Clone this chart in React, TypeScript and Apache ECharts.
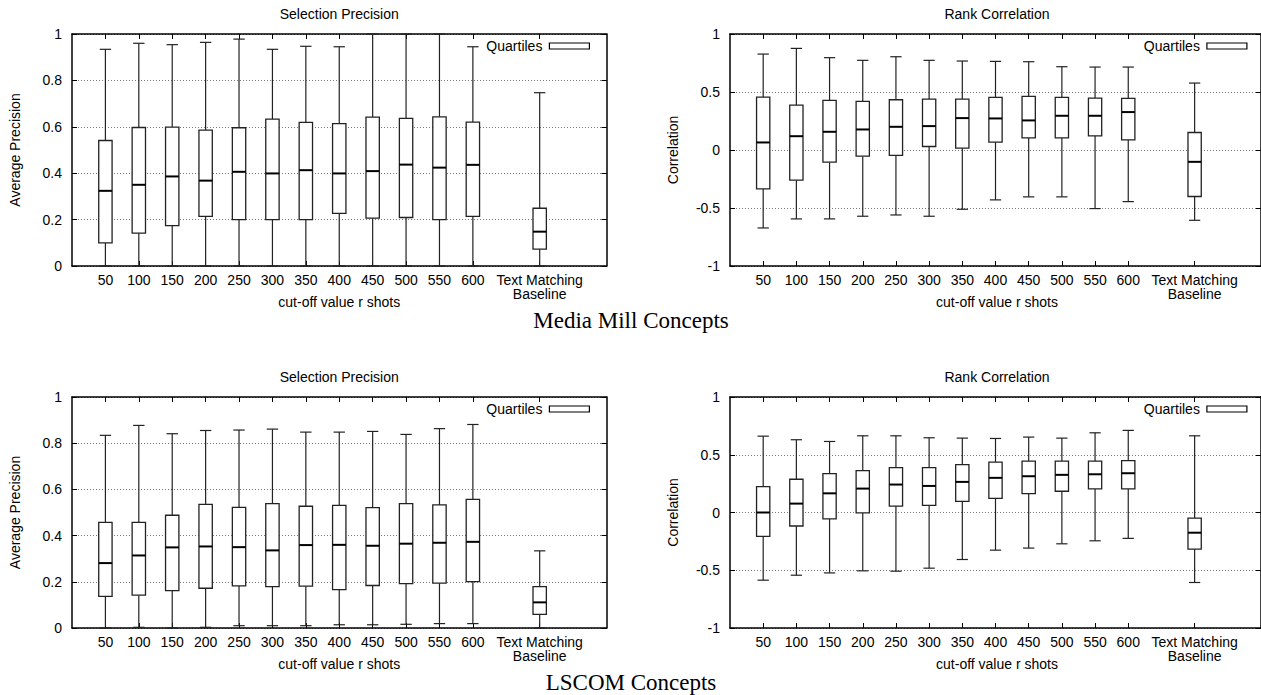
import React, { useEffect, useRef } from 'react';
import * as echarts from 'echarts';

// Category slots on the x axis (17 slots, 0..16); labelled slots only
const xSlots = [1, 2, 3, 4, 5, 6, 7, 8, 9, 10, 11, 12, 14];
const xLabels = ['50', '100', '150', '200', '250', '300', '350', '400', '450', '500', '550', '600', 'Text Matching\nBaseline'];
const slotCount = 17;

// [min, q1, median, q3, max] per category
const mediaMillPrecision = [
  [0, 0.10, 0.324, 0.541, 0.934],
  [0, 0.142, 0.350, 0.597, 0.960],
  [0, 0.174, 0.386, 0.599, 0.954],
  [0, 0.214, 0.368, 0.586, 0.964],
  [0, 0.200, 0.406, 0.596, 0.978],
  [0, 0.200, 0.399, 0.633, 0.934],
  [0, 0.200, 0.413, 0.619, 0.947],
  [0, 0.227, 0.399, 0.614, 0.945],
  [0, 0.206, 0.409, 0.642, 1.0],
  [0, 0.209, 0.437, 0.636, 1.0],
  [0, 0.200, 0.424, 0.643, 1.0],
  [0, 0.214, 0.436, 0.620, 0.945],
  [0, 0.073, 0.148, 0.249, 0.747],
];

const mediaMillCorrelation = [
  [-0.672, -0.335, 0.065, 0.456, 0.827],
  [-0.594, -0.260, 0.119, 0.387, 0.876],
  [-0.594, -0.105, 0.157, 0.427, 0.796],
  [-0.571, -0.053, 0.177, 0.419, 0.773],
  [-0.560, -0.047, 0.200, 0.433, 0.804],
  [-0.571, 0.030, 0.206, 0.439, 0.773],
  [-0.511, 0.016, 0.275, 0.439, 0.767],
  [-0.430, 0.068, 0.272, 0.453, 0.764],
  [-0.404, 0.105, 0.255, 0.462, 0.761],
  [-0.404, 0.105, 0.295, 0.453, 0.718],
  [-0.505, 0.122, 0.295, 0.447, 0.715],
  [-0.445, 0.088, 0.327, 0.445, 0.715],
  [-0.606, -0.401, -0.102, 0.151, 0.577],
];

const lscomPrecision = [
  [0, 0.137, 0.281, 0.457, 0.834],
  [0.003, 0.142, 0.314, 0.457, 0.877],
  [0, 0.162, 0.349, 0.488, 0.841],
  [0.003, 0.172, 0.353, 0.535, 0.855],
  [0.010, 0.182, 0.350, 0.522, 0.857],
  [0.010, 0.179, 0.336, 0.538, 0.861],
  [0.010, 0.181, 0.359, 0.527, 0.848],
  [0.014, 0.166, 0.360, 0.531, 0.848],
  [0.014, 0.184, 0.356, 0.521, 0.851],
  [0.016, 0.192, 0.365, 0.538, 0.838],
  [0.019, 0.194, 0.369, 0.533, 0.863],
  [0.019, 0.201, 0.373, 0.557, 0.881],
  [0, 0.059, 0.111, 0.179, 0.334],
];

const lscomCorrelation = [
  [-0.586, -0.207, 0.0, 0.224, 0.661],
  [-0.543, -0.117, 0.077, 0.288, 0.630],
  [-0.523, -0.056, 0.166, 0.337, 0.615],
  [-0.505, -0.004, 0.207, 0.363, 0.664],
  [-0.508, 0.056, 0.242, 0.389, 0.664],
  [-0.482, 0.062, 0.230, 0.389, 0.647],
  [-0.407, 0.097, 0.265, 0.415, 0.644],
  [-0.326, 0.123, 0.300, 0.436, 0.641],
  [-0.308, 0.163, 0.314, 0.444, 0.653],
  [-0.271, 0.184, 0.326, 0.444, 0.644],
  [-0.245, 0.204, 0.331, 0.444, 0.690],
  [-0.224, 0.204, 0.340, 0.450, 0.711],
  [-0.606, -0.317, -0.175, -0.048, 0.664],
];

const panelTitles = ['Selection Precision', 'Rank Correlation', 'Selection Precision', 'Rank Correlation'];
const yNames = ['Average Precision', 'Correlation', 'Average Precision', 'Correlation'];
const xName = 'cut-off value r shots';
const captions = ['Media Mill Concepts', 'LSCOM Concepts'];
const legendName = 'Quartiles';

const SANS = '"Liberation Sans", Arial, Helvetica, sans-serif';
const SERIF = '"Liberation Serif", "Times New Roman", serif';

export default function App() {
  const ref = useRef<HTMLDivElement>(null);

  useEffect(() => {
    document.body.style.margin = '0';
    if (!ref.current) return;
    const chart = echarts.init(ref.current, undefined, { renderer: 'svg' });

    const catData = Array.from({ length: slotCount }, (_, i) => {
      const k = xSlots.indexOf(i);
      return k >= 0 ? xLabels[k] : 'slot' + i;
    });
    const showSlot = (i: number) => xSlots.indexOf(i) >= 0;

    const grids = [
      { left: 72, top: 34, width: 534.5, height: 232 },
      { left: 730, top: 34, width: 534, height: 232 },
      { left: 72, top: 397, width: 534.5, height: 231 },
      { left: 730, top: 397, width: 534, height: 231 },
    ];
    const yRanges = [
      { min: 0, max: 1, interval: 0.2 },
      { min: -1, max: 1, interval: 0.5 },
      { min: 0, max: 1, interval: 0.2 },
      { min: -1, max: 1, interval: 0.5 },
    ];
    const panelData = [mediaMillPrecision, mediaMillCorrelation, lscomPrecision, lscomCorrelation];

    const axisLine = { show: true, onZero: false, lineStyle: { color: '#000', width: 1.5 } };
    const tick = { show: true, inside: true, length: 5, lineStyle: { color: '#000', width: 1 } };

    const xAxis: any[] = [];
    const yAxis: any[] = [];
    grids.forEach((_, g) => {
      xAxis.push({
        gridIndex: g, type: 'category', data: catData, boundaryGap: false, position: 'bottom',
        axisLine, axisTick: { ...tick, interval: (i: number) => showSlot(i) },
        axisLabel: {
          interval: (i: number) => showSlot(i), color: '#000', fontSize: 14, fontFamily: SANS,
          margin: 7, lineHeight: 14, align: 'center',
        },
        splitLine: { show: false },
      });
      xAxis.push({
        gridIndex: g, type: 'category', data: catData, boundaryGap: false, position: 'top',
        axisLine, axisTick: { ...tick, interval: (i: number) => showSlot(i) },
        axisLabel: { show: false }, splitLine: { show: false },
      });
      yAxis.push({
        gridIndex: g, type: 'value', position: 'left', ...yRanges[g],
        axisLine, axisTick: tick,
        axisLabel: { color: '#000', fontSize: 14, fontFamily: SANS, margin: 10 },
        splitLine: { show: true, lineStyle: { color: '#777', type: [1, 2], width: 1 } },
      });
      yAxis.push({
        gridIndex: g, type: 'value', position: 'right', ...yRanges[g],
        axisLine, axisTick: tick, axisLabel: { show: false }, splitLine: { show: false },
      });
    });

    const renderBox = (_params: any, api: any) => {
      const x = api.value(0);
      const lo = api.coord([x, api.value(1)]);
      const q1 = api.coord([x, api.value(2)]);
      const md = api.coord([x, api.value(3)]);
      const q3 = api.coord([x, api.value(4)]);
      const hi = api.coord([x, api.value(5)]);
      const unit = api.coord([x + 1, api.value(3)])[0] - md[0];
      const bw = unit * 0.4;
      const cw = unit * 0.34;
      const cx = md[0];
      const ws = { stroke: '#222', lineWidth: 1.2 };
      return {
        type: 'group',
        children: [
          { type: 'line', shape: { x1: cx, y1: hi[1], x2: cx, y2: q3[1] }, style: ws },
          { type: 'line', shape: { x1: cx, y1: q1[1], x2: cx, y2: lo[1] }, style: ws },
          { type: 'line', shape: { x1: cx - cw / 2, y1: hi[1], x2: cx + cw / 2, y2: hi[1] }, style: ws },
          { type: 'line', shape: { x1: cx - cw / 2, y1: lo[1], x2: cx + cw / 2, y2: lo[1] }, style: ws },
          {
            type: 'rect',
            shape: { x: cx - bw / 2, y: q3[1], width: bw, height: q1[1] - q3[1] },
            style: { fill: '#fff', stroke: '#222', lineWidth: 1.3 },
          },
          { type: 'line', shape: { x1: cx - bw / 2, y1: md[1], x2: cx + bw / 2, y2: md[1] }, style: { stroke: '#000', lineWidth: 2 } },
        ],
      };
    };

    const series = panelData.map((rows, g) => ({
      name: legendName,
      type: 'custom',
      xAxisIndex: 2 * g,
      yAxisIndex: 2 * g,
      renderItem: renderBox,
      itemStyle: { color: '#fff', borderColor: '#000', borderWidth: 1.2 },
      encode: { x: 0, y: [1, 2, 3, 4, 5] },
      data: rows.map((r, i) => [xSlots[i], ...r]),
      silent: true,
    }));

    const legendPos = [
      { right: 1261 - 590, top: 39 },
      { right: 1261 - 1247.5, top: 39 },
      { right: 1261 - 590, top: 402 },
      { right: 1261 - 1247.5, top: 402 },
    ];
    const legend = legendPos.map((p) => ({
      ...p,
      padding: 0,
      align: 'right',
      selectedMode: false,
      itemWidth: 40,
      itemHeight: 6,
      data: [{ name: legendName, icon: 'rect', itemStyle: { color: '#fff', borderColor: '#000', borderWidth: 1.2 } }],
      textStyle: { color: '#000', fontSize: 14, fontFamily: SANS, padding: [0, 2, 0, 0] },
    }));

    const graphics: any[] = [];
    grids.forEach((gr, g) => {
      const cx = gr.left + gr.width / 2;
      const cy = gr.top + gr.height / 2;
      graphics.push({
        type: 'text', x: cx, y: gr.top - 20,
        style: { text: panelTitles[g], font: `14px ${SANS}`, fill: '#000', align: 'center', verticalAlign: 'middle' },
      });
      graphics.push({
        type: 'text', x: cx, y: gr.top + gr.height + 36,
        style: { text: xName, font: `14px ${SANS}`, fill: '#000', align: 'center', verticalAlign: 'middle' },
      });
      graphics.push({
        type: 'text', x: gr.left - 57, y: cy, rotation: Math.PI / 2,
        style: { text: yNames[g], font: `14px ${SANS}`, fill: '#000', align: 'center', verticalAlign: 'middle' },
      });
    });
    graphics.push({
      type: 'text', x: 631, y: 320,
      style: { text: captions[0], font: `23px ${SERIF}`, fill: '#000', align: 'center', verticalAlign: 'middle' },
    });
    graphics.push({
      type: 'text', x: 631, y: 682,
      style: { text: captions[1], font: `23px ${SERIF}`, fill: '#000', align: 'center', verticalAlign: 'middle' },
    });

    chart.setOption({
      animation: false,
      backgroundColor: '#fff',
      grid: grids,
      xAxis,
      yAxis,
      legend,
      series,
      graphic: graphics,
    });

    return () => chart.dispose();
  }, []);

  return <div ref={ref} style={{ width: 1261, height: 695 }} />;
}
